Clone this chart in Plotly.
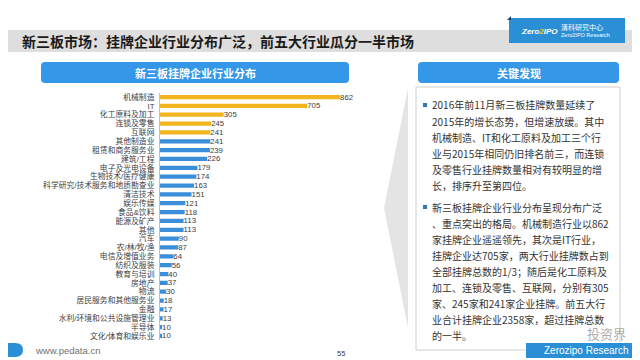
import plotly.graph_objects as go

# ---------------- data ----------------
categories = ["机械制造", "IT", "化工原料及加工", "连锁及零售", "互联网", "其他制造业",
              "租赁和商务服务业", "建筑/工程", "电子及光电设备", "生物技术/医疗健康",
              "科学研究/技术服务和地质勘查业", "清洁技术", "娱乐传媒", "食品&饮料",
              "能源及矿产", "其他", "汽车", "农/林/牧/渔", "电信及增值业务", "纺织及服装",
              "教育与培训", "房地产", "物流", "居民服务和其他服务业", "金融",
              "水利/环境和公共设施管理业", "半导体", "文化/体育和娱乐业"]
values = [862, 705, 305, 245, 241, 241, 239, 226, 179, 174, 163, 151, 121, 118,
          113, 113, 90, 87, 64, 56, 40, 37, 30, 18, 17, 13, 10, 10]
top_n = 5

title_text = "新三板市场：挂牌企业行业分布广泛，前五大行业瓜分一半市场"
left_header = "新三板挂牌企业行业分布"
right_header = "关键发现"
para1 = ["2016年前11月新三板挂牌数量延续了",
         "2015年的增长态势，但增速放缓。其中",
         "机械制造、IT和化工原料及加工三个行",
         "业与2015年相同仍旧排名前三，而连锁",
         "及零售行业挂牌数量相对有较明显的增",
         "长，排序升至第四位。"]
para2 = ["新三板挂牌企业行业分布呈现分布广泛",
         "、重点突出的格局。机械制造行业以862",
         "家挂牌企业遥遥领先，其次是IT行业，",
         "挂牌企业达705家，两大行业挂牌数占到",
         "全部挂牌总数的1/3；随后是化工原料及",
         "加工、连锁及零售、互联网，分别有305",
         "家、245家和241家企业挂牌。前五大行",
         "业合计挂牌企业2358家，超过挂牌总数",
         "的一半。"]

W, H = 640, 360
GOLD = "#f2b51e"
BLUE = "#3a8fdb"
HDR = "#3497e8"
CJK = "Noto Sans CJK SC"
MIX = "Liberation Sans, Noto Sans CJK SC"

def px(x):
    return x / W

def py(y):
    return 1 - y / H

def rrect(x0, y0, x1, y1, r):
    return (f"M{px(x0 + r)},{py(y0)} L{px(x1 - r)},{py(y0)} Q{px(x1)},{py(y0)} {px(x1)},{py(y0 + r)} "
            f"L{px(x1)},{py(y1 - r)} Q{px(x1)},{py(y1)} {px(x1 - r)},{py(y1)} "
            f"L{px(x0 + r)},{py(y1)} Q{px(x0)},{py(y1)} {px(x0)},{py(y1 - r)} "
            f"L{px(x0)},{py(y0 + r)} Q{px(x0)},{py(y0)} {px(x0 + r)},{py(y0)} Z")

colors = [GOLD if i < top_n else BLUE for i in range(len(values))]

fig = go.Figure(go.Bar(
    x=values, y=categories, orientation="h",
    marker=dict(color=colors, line=dict(width=0)),
    text=[str(v) for v in values], textposition="outside", constraintext="none",
    textangle=0,
    textfont=dict(size=7.8, color="#404040", family="Liberation Sans"),
    cliponaxis=False, width=0.48,
))

shapes = []
annos = []

# title band
shapes.append(dict(type="rect", xref="paper", yref="paper", x0=0, x1=1, y0=py(44), y1=py(22),
                   fillcolor="#dedede", line=dict(width=0), layer="below"))
annos.append(dict(x=px(12), y=py(33), xref="paper", yref="paper", xanchor="left", yanchor="middle",
                  text=f"<b>{title_text}</b>", showarrow=False,
                  font=dict(size=14, color="#1a1a1a", family=CJK)))

# logo box
shapes.append(dict(type="rect", xref="paper", yref="paper", x0=px(501), x1=px(617), y0=py(35), y1=py(10),
                   fillcolor="#2b8fd6", line=dict(width=0)))
shapes.append(dict(type="path", xref="paper", yref="paper",
                   path=f"M{px(499)},{py(12)} L{px(503)},{py(8)} L{px(503)},{py(12)} Z",
                   fillcolor="#1d3d66", line=dict(width=0)))
annos.append(dict(x=px(531), y=py(23), xref="paper", yref="paper", xanchor="center", yanchor="middle",
                  text="<i><b>Zero<span style='color:#f5c518'>2</span>IPO</b></i>", showarrow=False,
                  font=dict(size=8, color="white", family="Liberation Sans")))
annos.append(dict(x=px(551), y=py(18.5), xref="paper", yref="paper", xanchor="left", yanchor="middle",
                  text="清科研究中心", showarrow=False, font=dict(size=7, color="white", family=CJK)))
annos.append(dict(x=px(551), y=py(27.5), xref="paper", yref="paper", xanchor="left", yanchor="middle",
                  text="Zero2IPO Research", showarrow=False,
                  font=dict(size=5.5, color="white", family="Liberation Sans")))

# section headers
shapes.append(dict(type="path", xref="paper", yref="paper", path=rrect(33, 54, 341, 75, 4),
                   fillcolor=HDR, line=dict(width=0)))
annos.append(dict(x=px(187), y=py(64.5), xref="paper", yref="paper", xanchor="center", yanchor="middle",
                  text=f"<b>{left_header}</b>", showarrow=False,
                  font=dict(size=11, color="white", family=CJK)))
shapes.append(dict(type="path", xref="paper", yref="paper", path=rrect(410, 54, 611, 75, 4),
                   fillcolor=HDR, line=dict(width=0)))
annos.append(dict(x=px(510.5), y=py(64.5), xref="paper", yref="paper", xanchor="center", yanchor="middle",
                  text=f"<b>{right_header}</b>", showarrow=False,
                  font=dict(size=11, color="white", family=CJK)))

# decorative chevron
shapes.append(dict(type="path", xref="paper", yref="paper",
                   path=f"M{px(400)},{py(80)} L{px(376)},{py(200)} L{px(400)},{py(320)} Z",
                   fillcolor="#e4e4e4", line=dict(width=0), layer="below"))

# right panel box
shapes.append(dict(type="rect", xref="paper", yref="paper", x0=px(408), x1=px(612), y0=py(342), y1=py(79),
                   fillcolor="white", line=dict(color="#cfcfcf", width=1)))

def add_para(lines, y_start, step):
    shapes.append(dict(type="rect", xref="paper", yref="paper",
                       x0=px(415), x1=px(419), y0=py(y_start + 2), y1=py(y_start - 2),
                       fillcolor="#2e78b8", line=dict(width=0)))
    for i, ln in enumerate(lines):
        annos.append(dict(x=px(422), y=py(y_start + i * step), xref="paper", yref="paper",
                          xanchor="left", yanchor="middle", text=ln, showarrow=False,
                          font=dict(size=10, color="#333333", family=CJK)))

add_para(para1, 97, 16)
add_para(para2, 199, 16)

# footer
shapes.append(dict(type="path", xref="paper", yref="paper",
                   path=f"M{px(0)},{py(335)} L{px(7)},{py(335)} Q{px(15)},{py(335)} {px(15)},{py(342)} "
                        f"Q{px(15)},{py(349)} {px(7)},{py(349)} L{px(0)},{py(349)} Z",
                   fillcolor="#2b8fd6", line=dict(width=0)))
annos.append(dict(x=px(25), y=py(342), xref="paper", yref="paper", xanchor="left", yanchor="middle",
                  text="www.pedata.cn", showarrow=False,
                  font=dict(size=9.5, color="#707070", family="Liberation Sans")))
annos.append(dict(x=px(333), y=py(345), xref="paper", yref="paper", xanchor="center", yanchor="middle",
                  text="55", showarrow=False, font=dict(size=7.5, color="#404040", family="Liberation Sans")))
shapes.append(dict(type="rect", xref="paper", yref="paper", x0=px(518), x1=px(639), y0=py(350), y1=py(335),
                   fillcolor="#2b8fd6", line=dict(width=0)))
annos.append(dict(x=px(578), y=py(342.5), xref="paper", yref="paper", xanchor="center", yanchor="middle",
                  text="Zerozipo Research", showarrow=False,
                  font=dict(size=10, color="white", family="Liberation Sans")))
annos.append(dict(x=px(598), y=py(325), xref="paper", yref="paper", xanchor="center", yanchor="middle",
                  text="投资界", showarrow=False, font=dict(size=13, color="rgba(150,150,150,0.8)", family=CJK)))

fig.update_layout(
    width=W, height=H, margin=dict(l=0, r=0, t=0, b=0),
    paper_bgcolor="white", plot_bgcolor="white", showlegend=False,
    shapes=shapes, annotations=annos,
    xaxis=dict(domain=[px(152), px(345)], range=[0, 924], visible=False, fixedrange=True),
    yaxis=dict(domain=[py(332.4), py(84.6)], range=[len(categories) - 0.5, -0.5],
               showline=True, linecolor="#bfbfbf", linewidth=1, showgrid=False, zeroline=False,
               ticks="", ticklabelstandoff=3, automargin=False, dtick=1, tickmode="linear",
               tickfont=dict(size=7.8, color="#404040", family=MIX)),
)

fig.write_html("out.html")
